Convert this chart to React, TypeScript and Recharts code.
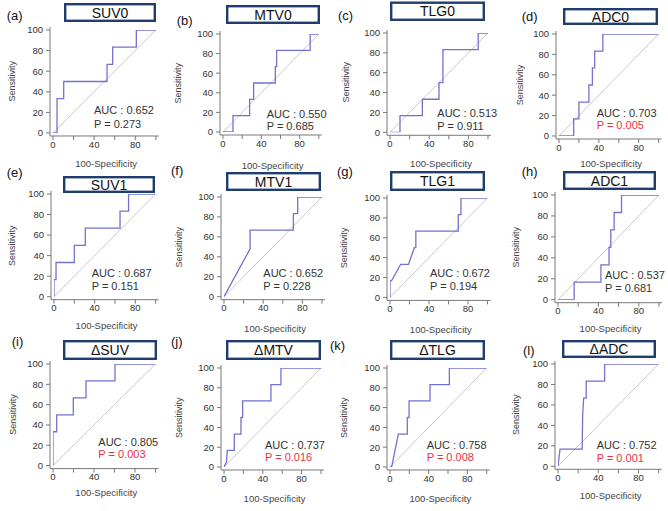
import React from 'react';
import { LineChart, Line, XAxis, YAxis } from 'recharts';

type Pt = { x: number; y: number };
const pts = (a: number[][]): Pt[] => a.map(([x, y]) => ({ x, y }));

// ROC curves: [100-Specificity, Sensitivity]
const rocSUV0 = [[0,0],[3.9,0],[3.9,33.3],[10.4,33.3],[10.4,50],[52.5,50],[52.5,66.7],[58,66.7],[58,83.3],[81,83.3],[81,100],[100,100]];
const rocMTV0 = [[0,0],[10.4,0],[10.4,16.7],[27.8,16.7],[27.8,33.3],[32,33.3],[32,50],[54.6,50],[54.6,66.7],[56,66.7],[56,83.3],[91,83.3],[91,100],[100,100]];
const rocTLG0 = [[0,0],[10.2,0],[10.2,16.7],[33,16.7],[33,33.3],[50,33.3],[50,50],[54,50],[54,83.3],[90,83.3],[90,100],[100,100]];
const rocADC0 = [[0,0],[14.7,0],[14.7,16.7],[20,16.7],[20,33.3],[30,33.3],[30,50],[33.5,50],[33.5,66.7],[35.8,66.7],[35.8,83.3],[44,83.3],[44,100],[100,100]];
const rocSUV1 = [[0,0],[0,16.7],[2,16.7],[2,33.3],[20,33.3],[20,50],[30.8,50],[30.8,66.7],[65,66.7],[65,83.3],[73.4,83.3],[73.4,100],[100,100]];
const rocMTV1 = [[0,0],[26.6,48],[26.6,66.7],[70.8,66.7],[70.8,83.3],[75.2,83.3],[75.2,100],[100,100]];
const rocTLG1 = [[0,0],[0,16.7],[1.5,16.7],[11,33.3],[19,33.3],[25,50],[26.5,50],[26.5,66.7],[70,66.7],[70,83.3],[72.8,83.3],[72.8,100],[100,100]];
const rocADC1 = [[0,0],[16,0],[16,16.7],[42.5,16.7],[42.5,33.3],[50.5,33.3],[50.5,50],[52.3,50],[52.3,66.7],[55.6,66.7],[55.6,83.3],[62.9,83.3],[62.9,100],[100,100]];
const rocDSUV = [[0,0],[0,33.3],[3.6,33.3],[3.6,50],[19.8,50],[19.8,66.7],[32.2,66.7],[32.2,83.3],[60.5,83.3],[60.5,100],[100,100]];
const rocDMTV = [[0,0],[2.5,5],[3.4,16.7],[10.6,16.7],[10.6,33.3],[17.5,33.3],[17.5,50],[19.2,50],[19.2,66.7],[48.4,66.7],[48.4,83.3],[58.7,83.3],[58.7,100],[100,100]];
const rocDTLG = [[0,0],[1.7,0],[8.6,33.3],[17.9,33.3],[17.9,50],[19.7,50],[19.7,66.7],[41.4,66.7],[41.4,83.3],[61.4,83.3],[61.4,100],[100,100]];
const rocDADC = [[0,0],[2,16.7],[24,16.7],[24.5,50],[25.5,66.7],[28,66.7],[28,83.3],[46.3,83.3],[46.3,100],[100,100]];

const diagonal = [[0,0],[100,100]];

const panelLabels = ['(a)','(b)','(c)','(d)','(e)','(f)','(g)','(h)','(i)','(j)','(k)','(l)'];
const titles = ['SUV0','MTV0','TLG0','ADC0','SUV1','MTV1','TLG1','ADC1','ΔSUV','ΔMTV','ΔTLG','ΔADC'];
const aucValues = ['0.652','0.550','0.513','0.703','0.687','0.652','0.672','0.537','0.805','0.737','0.758','0.752'];
const pValues = ['0.273','0.685','0.911','0.005','0.151','0.228','0.194','0.681','0.003','0.016','0.008','0.001'];
const curves = [rocSUV0, rocMTV0, rocTLG0, rocADC0, rocSUV1, rocMTV1, rocTLG1, rocADC1, rocDSUV, rocDMTV, rocDTLG, rocDADC];

const xTicks = [0, 20, 40, 60, 80, 100];
const xLabelled = [0, 40, 80];
const yTicks = [0, 20, 40, 60, 80, 100];

type Lay = { px0: number; px100: number; py100: number; py0: number; box: number[]; lab: number[]; auc: number[]; ylx: number; xly: number };
const layout: Lay[] = [
  { px0: 52.7, px100: 155.6, py100: 29.7, py0: 132.7, box: [64, 3, 156, 22], lab: [6.7, 15], auc: [94, 110, 124], ylx: 12.3, xly: 163 },
  { px0: 222.7, px100: 318.5, py100: 34.3, py0: 132.3, box: [226, 5, 320, 24], lab: [176.7, 20.7], auc: [266.7, 114, 126], ylx: 178.3, xly: 165 },
  { px0: 390, px100: 488, py100: 32.7, py0: 132, box: [390, 1.5, 485, 21], lab: [338, 15], auc: [437.3, 113.3, 126], ylx: 346, xly: 163.3 },
  { px0: 559.3, px100: 659, py100: 34, py0: 136, box: [563, 8, 658, 25], lab: [521.7, 16.7], auc: [596.7, 113.3, 125], ylx: 520, xly: 163.3 },
  { px0: 53.7, px100: 155.3, py100: 194.3, py0: 297, box: [63, 176, 155, 193], lab: [6.7, 172], auc: [91.7, 273.3, 285.7], ylx: 12.3, xly: 325 },
  { px0: 224, px100: 322, py100: 197.3, py0: 297, box: [226, 172, 321, 191], lab: [171, 170], auc: [263.3, 273.3, 285.7], ylx: 179, xly: 328.3 },
  { px0: 390, px100: 487.5, py100: 198.3, py0: 297.7, box: [390, 171, 485, 191], lab: [337, 171.7], auc: [430, 273.3, 285.7], ylx: 344, xly: 329 },
  { px0: 558, px100: 659, py100: 195, py0: 299.7, box: [563, 171, 656, 190], lab: [521.7, 171.7], auc: [605, 275, 288.3], ylx: 515.7, xly: 328.3 },
  { px0: 53, px100: 155.5, py100: 363.7, py0: 465.3, box: [63, 340, 157, 360], lab: [11.7, 341.7], auc: [98.3, 441.7, 454.3], ylx: 13.3, xly: 492.3 },
  { px0: 224, px100: 321, py100: 368.3, py0: 467.3, box: [226, 340, 321, 360], lab: [171, 341.7], auc: [265, 445, 456.7], ylx: 179, xly: 498.3 },
  { px0: 390, px100: 486.7, py100: 368.3, py0: 467.3, box: [390, 340, 485, 360], lab: [330, 345], auc: [426.7, 445, 456.7], ylx: 344, xly: 498.3 },
  { px0: 558.3, px100: 659, py100: 363.7, py0: 466, box: [562, 340, 656, 358], lab: [523, 350], auc: [596.7, 445, 457.7], ylx: 515.7, xly: 495 },
];

const FONT = '"Liberation Sans", Arial, sans-serif';
const PAD = 3;
const YW = 40;
const MT = 5;
const MR = 6;
const XH = 22;
const TICK = { fontSize: 9.5, fill: '#333', fontFamily: FONT };

function Panel({ i }: { i: number }) {
  const l = layout[i];
  const L = l.px0 - PAD;
  const R = l.px100 + PAD;
  const T = l.py100 - PAD;
  const B = l.py0 + PAD;
  const w = YW + (R - L) + MR;
  const h = MT + (B - T) + XH;
  return (
    <div style={{ position: 'absolute', left: L - YW, top: T - MT, width: w, height: h }}>
      <LineChart width={w} height={h} margin={{ top: MT, right: MR, bottom: 0, left: 0 }}>
        <XAxis
          dataKey="x"
          type="number"
          domain={[0, 100]}
          ticks={xTicks}
          tickFormatter={(v: number) => (xLabelled.includes(v) ? String(v) : '')}
          padding={{ left: PAD, right: PAD }}
          height={XH}
          tickSize={4}
          tickMargin={1}
          stroke="#777"
          tick={TICK}
          allowDataOverflow
        />
        <YAxis
          dataKey="y"
          type="number"
          domain={[0, 100]}
          ticks={yTicks}
          padding={{ top: PAD, bottom: PAD }}
          width={YW}
          tickSize={4}
          tickMargin={3}
          stroke="#777"
          tick={TICK}
          allowDataOverflow
        />
        <Line data={pts(diagonal)} dataKey="y" stroke="#d2c4ca" strokeWidth={1} dot={false} isAnimationActive={false} />
        <Line data={pts(curves[i])} dataKey="y" stroke="#7272d2" strokeWidth={1.3} dot={false} isAnimationActive={false} />
      </LineChart>
    </div>
  );
}

function Overlay() {
  return (
    <svg width={668} height={511} style={{ position: 'absolute', left: 0, top: 0, pointerEvents: 'none' }}>
      {layout.map((l, i) => {
        const red = parseFloat(pValues[i]) < 0.05;
        const [bx0, by0, bx1, by1] = l.box;
        const ymid = (l.py100 + l.py0) / 2;
        return (
          <g key={i} fontFamily={FONT}>
            <rect x={bx0 + 1.2} y={by0 + 1.2} width={bx1 - bx0 - 2.4} height={by1 - by0 - 2.4} fill="#fff" stroke="#1f3d6d" strokeWidth={2.4} />
            <text x={(bx0 + bx1) / 2} y={(by0 + by1) / 2} textAnchor="middle" dominantBaseline="central" fontSize={14} fill="#111">{titles[i]}</text>
            <text x={l.lab[0]} y={l.lab[1]} dominantBaseline="central" fontSize={13} fill="#111">{panelLabels[i]}</text>
            <text x={l.auc[0]} y={l.auc[1]} dominantBaseline="central" fontSize={11} fill="#333">{`AUC : ${aucValues[i]}`}</text>
            <text x={l.auc[0]} y={l.auc[2]} dominantBaseline="central" fontSize={11} fill={red ? '#e8303f' : '#333'}>{`P = ${pValues[i]}`}</text>
            <text x={l.ylx} y={ymid} transform={`rotate(-90 ${l.ylx} ${ymid})`} textAnchor="middle" dominantBaseline="central" fontSize={9} fill="#444">Sensitivity</text>
            <text x={(l.px0 + l.px100) / 2 + 2} y={l.xly} textAnchor="middle" dominantBaseline="central" fontSize={9.5} fill="#444">100-Specificity</text>
          </g>
        );
      })}
    </svg>
  );
}

export default function App() {
  return (
    <div style={{ position: 'absolute', left: 0, top: 0, width: 668, height: 511, background: '#fff', overflow: 'hidden', fontFamily: FONT }}>
      {layout.map((_, i) => (
        <Panel key={i} i={i} />
      ))}
      <Overlay />
    </div>
  );
}
